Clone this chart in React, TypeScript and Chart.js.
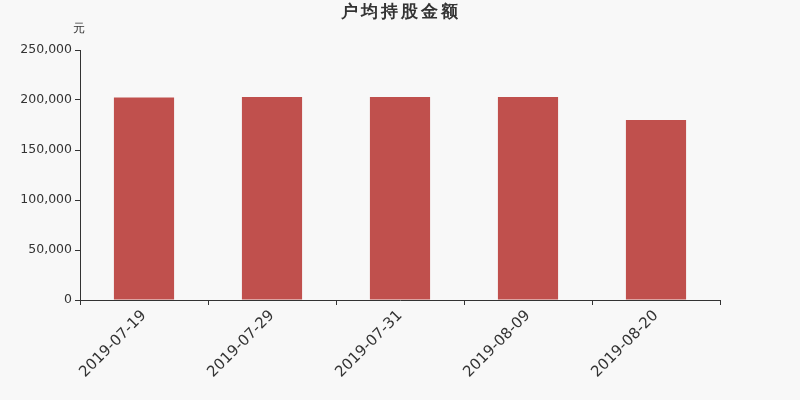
import { useEffect, useRef } from "react";
import { Chart, registerables } from "chart.js";

Chart.register(...registerables);

const dates = ["2019-07-19", "2019-07-29", "2019-07-31", "2019-08-09", "2019-08-20"];
const amounts = [202600, 203100, 203100, 203000, 180000];
const title = "户均持股金额";
const unit = "元";

const font = "'DejaVu Sans', sans-serif";

const headerPlugin = {
  id: "header",
  beforeDraw(chart: Chart) {
    const { ctx } = chart;
    ctx.save();
    ctx.fillStyle = "#f8f8f8";
    ctx.fillRect(0, 0, chart.width, chart.height);
    ctx.restore();
  },
  afterDraw(chart: Chart) {
    const { ctx } = chart;
    ctx.save();
    ctx.fillStyle = "#333";
    ctx.textAlign = "center";
    ctx.textBaseline = "middle";
    ctx.font = `bold 17px ${font}`;
    (ctx as any).letterSpacing = "3px";
    ctx.fillText(title, 401, 13);
    (ctx as any).letterSpacing = "0px";
    ctx.font = `12px ${font}`;
    ctx.fillText(unit, 79, 29);
    ctx.restore();
  },
};

export default function App() {
  const canvasRef = useRef<HTMLCanvasElement | null>(null);

  useEffect(() => {
    if (!canvasRef.current) return;
    const chart = new Chart(canvasRef.current, {
      type: "bar",
      data: {
        labels: dates,
        datasets: [
          {
            data: amounts,
            backgroundColor: "#c0504d",
            barPercentage: 0.47,
            categoryPercentage: 1,
          },
        ],
      },
      options: {
        animation: false,
        responsive: false,
        devicePixelRatio: 1,
        layout: { padding: { top: 50, left: 0, right: 80, bottom: 0 } },
        plugins: {
          legend: { display: false },
          tooltip: { enabled: false },
        },
        scales: {
          x: {
            afterFit: (s: any) => {
              s.height = 100;
            },
            grid: {
              offset: true,
              drawOnChartArea: false,
              drawTicks: true,
              tickLength: 5,
              color: "#333",
            },
            border: { display: true, color: "#333", width: 1 },
            ticks: {
              color: "#333",
              font: { family: font, size: 15 },
              minRotation: 45,
              maxRotation: 45,
              padding: 2,
            },
          },
          y: {
            min: 0,
            max: 250000,
            afterFit: (s: any) => {
              s.width = 80;
            },
            grid: {
              drawOnChartArea: false,
              drawTicks: true,
              tickLength: 5,
              color: "#333",
            },
            border: { display: true, color: "#333", width: 1 },
            ticks: {
              stepSize: 50000,
              color: "#333",
              font: { family: font, size: 12.5 },
              padding: 3,
              callback: (v: any) => Number(v).toLocaleString("en-US"),
            },
          },
        },
      },
      plugins: [headerPlugin],
    });
    return () => chart.destroy();
  }, []);

  return (
    <div style={{ position: "fixed", left: 0, top: 0, width: 800, height: 400 }}>
      <canvas ref={canvasRef} width={800} height={400} />
    </div>
  );
}
